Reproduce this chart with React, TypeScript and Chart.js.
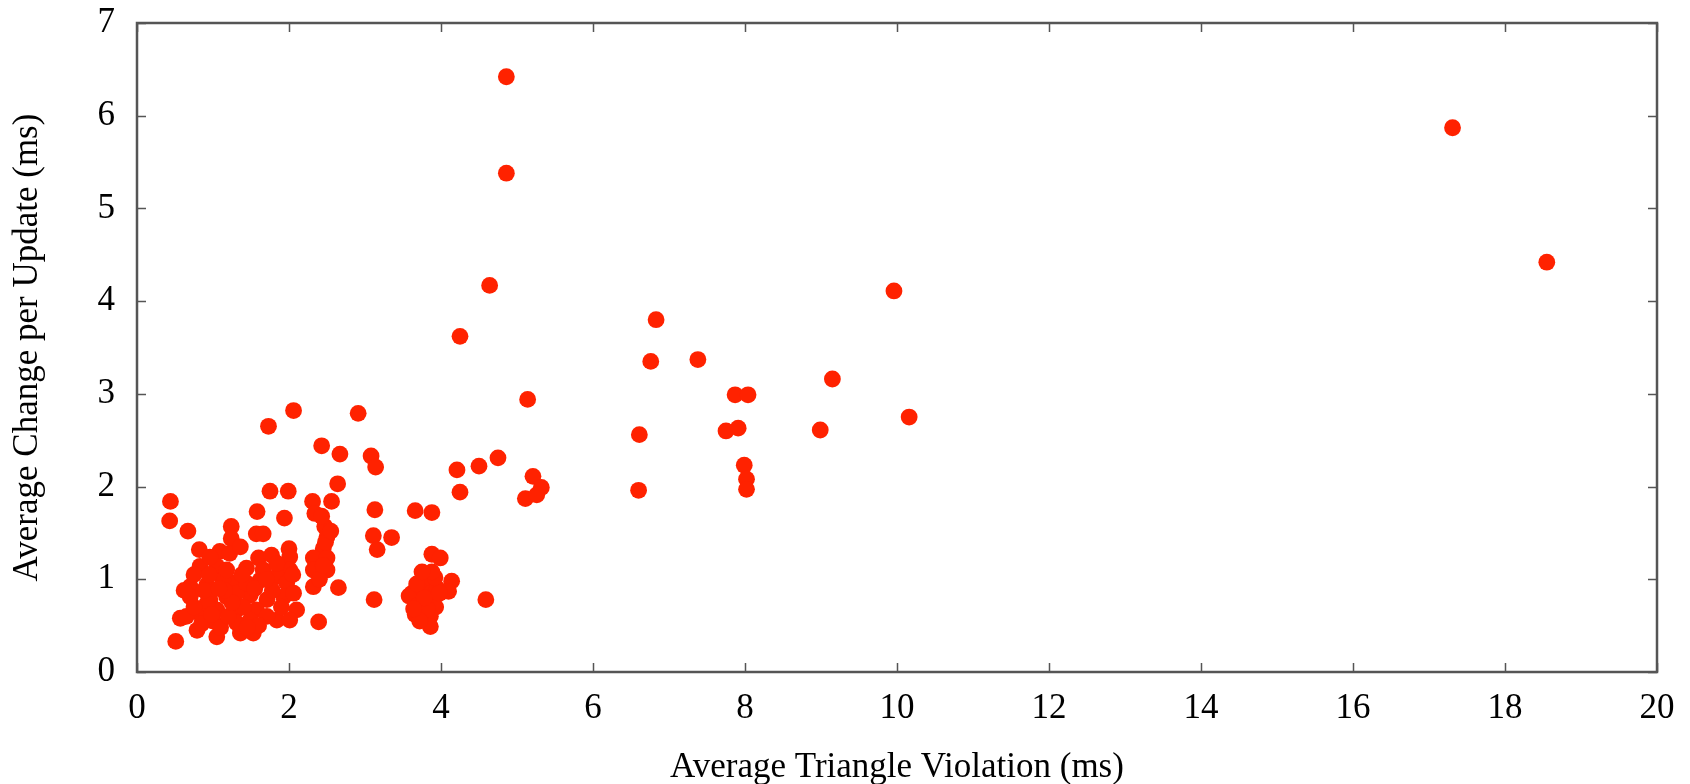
import React, { useEffect, useRef } from 'react';
import { Chart, registerables } from 'chart.js';

Chart.register(...registerables);

// Average Triangle Violation (ms)
const violation = [
  4.86, 4.86, 17.31, 18.55, 4.64, 9.96, 6.83, 4.25, 7.38, 6.76, 9.15, 7.87, 8.04, 5.14, 10.16,
  7.75, 7.91, 8.99, 6.61, 7.99, 8.02, 8.02, 6.60,
  2.91, 2.06, 1.73, 2.43, 2.67, 3.08, 3.14, 4.21, 4.50, 4.75, 4.25,
  5.11, 5.21, 5.32, 5.26,
  3.13, 3.11, 3.35, 3.16, 3.12, 3.66, 3.88, 3.88, 3.99, 4.14, 4.10, 4.59,
  3.62, 3.58, 3.66, 3.70, 3.73, 3.77, 3.80, 3.84, 3.87, 3.90, 3.93, 3.86, 3.82, 3.86, 3.95,
  3.78, 3.68, 3.92, 3.98, 3.72, 3.64, 3.88, 3.75,
  2.31, 2.56, 2.64, 2.34, 2.47, 2.50, 2.45, 2.32, 2.50, 2.50, 2.32, 2.32, 2.65, 2.39, 2.43,
  2.48, 2.40, 2.45, 2.55,
  0.44, 0.43, 0.67, 0.51, 1.75, 1.99, 1.58, 1.94, 1.24, 1.57, 1.66, 1.24,
  0.82, 1.09, 1.22, 1.60, 1.77, 2.00, 2.01, 0.83, 1.05, 1.44, 2.01, 0.70, 0.92, 1.27, 1.62,
  1.84, 1.97, 0.70, 0.96, 1.18, 1.49, 1.71, 1.93, 2.06, 2.10, 0.57, 0.83, 1.05, 1.31, 1.57,
  1.84, 2.01, 0.79, 1.05, 1.36, 1.53, 0.65, 0.92, 1.31, 1.31, 1.49, 1.71, 1.13, 1.44, 1.66,
  1.84, 1.18, 0.96, 1.36,
  0.75, 0.88, 1.00, 1.10, 1.20, 1.40, 1.55, 1.60, 0.95, 1.25, 1.15, 0.62, 0.75, 1.38, 1.78,
  1.90, 2.05, 1.70, 0.85, 1.45, 1.08, 0.98,
];

// Average Change per Update (ms)
const change = [
  6.42, 5.38, 5.87, 4.42, 4.17, 4.11, 3.80, 3.62, 3.37, 3.35, 3.16, 2.99, 2.99, 2.94, 2.75,
  2.60, 2.63, 2.61, 2.56, 2.23, 2.08, 1.97, 1.96,
  2.79, 2.82, 2.65, 2.44, 2.35, 2.33, 2.21, 2.18, 2.22, 2.31, 1.94,
  1.87, 2.11, 1.99, 1.91,
  1.75, 1.47, 1.45, 1.32, 0.78, 1.74, 1.72, 1.27, 1.23, 0.98, 0.87, 0.78,
  0.85, 0.82, 0.62, 0.72, 0.92, 1.00, 1.05, 0.95, 0.85, 0.78, 0.70, 0.60, 0.68, 0.49, 0.90,
  0.80, 0.95, 1.02, 0.85, 0.55, 0.68, 1.08, 1.08,
  1.84, 1.84, 2.03, 1.71, 1.57, 1.46, 1.33, 1.23, 1.23, 1.10, 1.10, 0.92, 0.91, 0.54, 1.68,
  1.40, 1.00, 1.15, 1.52,
  1.84, 1.63, 1.52, 0.33, 1.95, 1.95, 1.73, 1.66, 1.57, 1.49, 1.49, 1.44,
  1.32, 1.30, 1.28, 1.23, 1.26, 1.33, 1.24, 1.14, 1.14, 1.12, 1.10, 0.92, 0.94, 0.96, 0.99,
  1.03, 0.96, 0.81, 0.78, 0.81, 0.83, 0.78, 0.81, 0.85, 0.67, 0.58, 0.63, 0.67, 0.67, 0.67,
  0.56, 0.56, 0.45, 0.38, 0.42, 0.42, 0.60, 0.74, 0.85, 0.53, 0.56, 0.60, 0.99, 0.96, 1.10,
  1.17, 1.10, 1.24, 1.35,
  1.05, 0.88, 0.55, 0.48, 0.60, 0.70, 0.90, 0.50, 1.05, 0.75, 0.88, 0.88, 0.70, 1.05, 0.88,
  0.70, 1.05, 1.00, 0.52, 0.48, 0.90, 0.62,
];

const xTicks = [0, 2, 4, 6, 8, 10, 12, 14, 16, 18, 20];
const yTicks = [0, 1, 2, 3, 4, 5, 6, 7];

const xTitle = 'Average Triangle Violation (ms)';
const yTitle = 'Average Change per Update (ms)';

const RED = 'rgb(255, 34, 0)';
const FRAME = '#555555';
const FONT = { family: '"Liberation Serif", "Times New Roman", serif', size: 35 };

const framePlugin = {
  id: 'gnuframe',
  beforeDatasetsDraw(chart: any) {
    const { ctx, chartArea, scales } = chart;
    const { left, right, top, bottom } = chartArea;
    const xs = scales.x;
    const ys = scales.y;
    ctx.save();
    ctx.strokeStyle = FRAME;
    ctx.lineWidth = 1.5;
    ctx.beginPath();
    const tl = 9;
    xTicks.forEach((v) => {
      const px = Math.round(xs.getPixelForValue(v)) + 0.5;
      ctx.moveTo(px, bottom);
      ctx.lineTo(px, bottom - tl);
      ctx.moveTo(px, top);
      ctx.lineTo(px, top + tl);
    });
    yTicks.forEach((v) => {
      const py = Math.round(ys.getPixelForValue(v)) + 0.5;
      ctx.moveTo(left, py);
      ctx.lineTo(left + tl, py);
      ctx.moveTo(right, py);
      ctx.lineTo(right - tl, py);
    });
    ctx.stroke();
    ctx.lineWidth = 2.5;
    ctx.strokeRect(left, top, right - left, bottom - top);
    ctx.restore();
  },
};

export default function App() {
  const ref = useRef<HTMLCanvasElement | null>(null);

  useEffect(() => {
    if (!ref.current) return;
    const points = violation.map((x, i) => ({ x, y: change[i] }));
    const chart = new Chart(ref.current, {
      type: 'scatter',
      data: {
        datasets: [
          {
            data: points,
            backgroundColor: RED,
            borderWidth: 0,
            pointRadius: 8.4,
            pointHoverRadius: 8.4,
          },
        ],
      },
      options: {
        animation: false,
        responsive: false,
        devicePixelRatio: 1,
        layout: { padding: { top: 23, right: 33, left: 0, bottom: 0 } },
        plugins: {
          legend: { display: false },
          tooltip: { enabled: false },
        },
        scales: {
          x: {
            type: 'linear',
            min: 0,
            max: 20,
            afterBuildTicks: (s: any) => {
              s.ticks = xTicks.map((v) => ({ value: v }));
            },
            afterFit: (s: any) => {
              s.height = 112;
              s.paddingLeft = 0;
              s.paddingRight = 0;
            },
            grid: { display: false, drawTicks: false },
            border: { display: false },
            ticks: { font: FONT, color: '#000', padding: 16, maxRotation: 0, autoSkip: false },
            title: {
              display: true,
              text: xTitle,
              font: FONT,
              color: '#000',
              padding: { top: 0, bottom: -5 },
            },
          },
          y: {
            type: 'linear',
            min: 0,
            max: 7,
            afterBuildTicks: (s: any) => {
              s.ticks = yTicks.map((v) => ({ value: v }));
            },
            afterFit: (s: any) => {
              s.width = 137;
              s.paddingTop = 0;
              s.paddingBottom = 0;
            },
            grid: { display: false, drawTicks: false },
            border: { display: false },
            ticks: { font: FONT, color: '#000', padding: 22, autoSkip: false },
            title: {
              display: true,
              text: yTitle,
              font: FONT,
              color: '#000',
              padding: { top: 7, bottom: 0 },
            },
          },
        },
      },
      plugins: [framePlugin],
    });
    return () => chart.destroy();
  }, []);

  return (
    <div style={{ position: 'fixed', left: 0, top: 0, width: 1690, height: 784, background: '#fff' }}>
      <canvas ref={ref} width={1690} height={784} style={{ display: 'block' }} />
    </div>
  );
}
